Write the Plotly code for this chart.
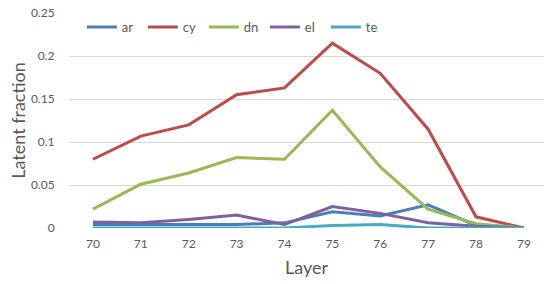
import plotly.graph_objects as go

layers = [70, 71, 72, 73, 74, 75, 76, 77, 78, 79]
ar = [0.004, 0.004, 0.004, 0.004, 0.006, 0.019, 0.014, 0.027, 0.003, 0.0]
cy = [0.080, 0.107, 0.120, 0.155, 0.163, 0.215, 0.180, 0.115, 0.013, 0.0]
dn = [0.022, 0.051, 0.064, 0.082, 0.080, 0.137, 0.071, 0.022, 0.005, 0.0]
el = [0.007, 0.006, 0.010, 0.015, 0.004, 0.025, 0.017, 0.006, 0.002, 0.0]
te = [0.0, 0.0, 0.0, 0.0, 0.0, 0.003, 0.004, 0.0, 0.0, 0.0]

series = [("ar", ar, "#4A7EBB"), ("cy", cy, "#BE4B48"), ("dn", dn, "#98B954"),
          ("el", el, "#7D60A0"), ("te", te, "#46AAC5")]

fig = go.Figure()
for name, vals, col in series:
    fig.add_trace(go.Scatter(x=layers, y=vals, name=name, mode="lines",
                             line=dict(color=col, width=3)))

font = "Lato, Carlito, 'Liberation Sans', sans-serif"
fig.update_layout(
    width=544, height=284,
    margin=dict(l=69, r=0, t=13, b=56, autoexpand=False),
    plot_bgcolor="white", paper_bgcolor="white",
    font=dict(family=font, color="#595959", size=12),
    legend=dict(orientation="h", x=0.027, y=0.935, xanchor="left", yanchor="middle",
                entrywidth=16, entrywidthmode="pixels", bgcolor="rgba(0,0,0,0)",
                font=dict(size=13, color="#595959"), tracegroupgap=0),
    xaxis=dict(range=[69.5, 79.42], tickvals=layers, ticktext=[str(v) for v in layers],
               showgrid=False, zeroline=False, showline=False, automargin=False,
               ticks="outside", ticklen=5, tickcolor="rgba(0,0,0,0)",
               ticklabeloverflow="allow",
               tickfont=dict(size=12, color="#595959"),
               title=dict(text="Layer", font=dict(size=18, color="#595959"), standoff=10)),
    yaxis=dict(range=[0, 0.2502], tickvals=[0, 0.05, 0.1, 0.15, 0.2, 0.25],
               ticktext=["0", "0.05", "0.1", "0.15", "0.2", "0.25"],
               showgrid=True, gridcolor="#D9D9D9", gridwidth=1, zeroline=False,
               showline=False, ticks="outside", ticklen=11, tickcolor="rgba(0,0,0,0)",
               automargin=False, ticklabeloverflow="allow",
               tickfont=dict(size=12, color="#595959"),
               title=dict(text="Latent fraction", font=dict(size=18, color="#595959"), standoff=0)),
    showlegend=True,
)
fig.write_html("out.html", config={"displayModeBar": False},
               post_script="document.body.style.margin='0';")
